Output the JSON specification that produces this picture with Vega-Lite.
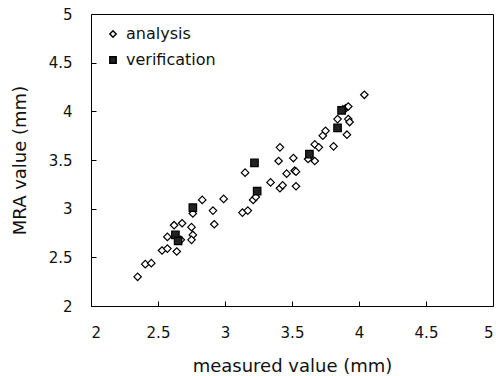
{
  "$schema": "https://vega.github.io/schema/vega-lite/v6.json",
  "autosize": "none",
  "width": 402,
  "height": 292,
  "padding": {"left": 91, "top": 14, "right": 3, "bottom": 70},
  "background": "white",
  "config": {
    "view": {"stroke": "black", "strokeWidth": 1},
    "font": "DejaVu Sans",
    "axis": {"grid": false, "domain": false, "tickColor": "black", "tickSize": -5, "labelFont": "DejaVu Sans", "labelFontSize": 15, "labelColor": "#111", "titleFont": "DejaVu Sans", "titleFontSize": 18, "titleFontWeight": "normal", "titleColor": "#111"},
    "legend": {"labelFont": "DejaVu Sans", "labelFontSize": 16, "labelColor": "#111"}
  },
  "data": {"values": [
    {"x": 2.348, "y": 2.30, "s": "analysis"},
    {"x": 2.405, "y": 2.43, "s": "analysis"},
    {"x": 2.45, "y": 2.44, "s": "analysis"},
    {"x": 2.53, "y": 2.57, "s": "analysis"},
    {"x": 2.57, "y": 2.59, "s": "analysis"},
    {"x": 2.64, "y": 2.56, "s": "analysis"},
    {"x": 2.57, "y": 2.71, "s": "analysis"},
    {"x": 2.62, "y": 2.83, "s": "analysis"},
    {"x": 2.68, "y": 2.85, "s": "analysis"},
    {"x": 2.67, "y": 2.68, "s": "analysis"},
    {"x": 2.75, "y": 2.81, "s": "analysis"},
    {"x": 2.76, "y": 2.73, "s": "analysis"},
    {"x": 2.75, "y": 2.68, "s": "analysis"},
    {"x": 2.76, "y": 2.95, "s": "analysis"},
    {"x": 2.83, "y": 3.09, "s": "analysis"},
    {"x": 2.91, "y": 2.98, "s": "analysis"},
    {"x": 2.92, "y": 2.84, "s": "analysis"},
    {"x": 2.99, "y": 3.10, "s": "analysis"},
    {"x": 3.13, "y": 2.96, "s": "analysis"},
    {"x": 3.17, "y": 2.98, "s": "analysis"},
    {"x": 3.15, "y": 3.37, "s": "analysis"},
    {"x": 3.21, "y": 3.09, "s": "analysis"},
    {"x": 3.23, "y": 3.12, "s": "analysis"},
    {"x": 3.34, "y": 3.27, "s": "analysis"},
    {"x": 3.41, "y": 3.21, "s": "analysis"},
    {"x": 3.43, "y": 3.24, "s": "analysis"},
    {"x": 3.40, "y": 3.49, "s": "analysis"},
    {"x": 3.41, "y": 3.63, "s": "analysis"},
    {"x": 3.46, "y": 3.36, "s": "analysis"},
    {"x": 3.51, "y": 3.52, "s": "analysis"},
    {"x": 3.52, "y": 3.39, "s": "analysis"},
    {"x": 3.53, "y": 3.38, "s": "analysis"},
    {"x": 3.53, "y": 3.23, "s": "analysis"},
    {"x": 3.62, "y": 3.51, "s": "analysis"},
    {"x": 3.67, "y": 3.49, "s": "analysis"},
    {"x": 3.67, "y": 3.66, "s": "analysis"},
    {"x": 3.70, "y": 3.63, "s": "analysis"},
    {"x": 3.73, "y": 3.75, "s": "analysis"},
    {"x": 3.75, "y": 3.80, "s": "analysis"},
    {"x": 3.81, "y": 3.64, "s": "analysis"},
    {"x": 3.84, "y": 3.92, "s": "analysis"},
    {"x": 3.92, "y": 3.92, "s": "analysis"},
    {"x": 3.93, "y": 3.89, "s": "analysis"},
    {"x": 3.91, "y": 3.76, "s": "analysis"},
    {"x": 3.90, "y": 4.03, "s": "analysis"},
    {"x": 3.92, "y": 4.05, "s": "analysis"},
    {"x": 4.04, "y": 4.17, "s": "analysis"},
    {"x": 3.88, "y": 4.02, "s": "analysis"},
    {"x": 2.63, "y": 2.73, "s": "verification"},
    {"x": 2.65, "y": 2.67, "s": "verification"},
    {"x": 2.76, "y": 3.01, "s": "verification"},
    {"x": 3.22, "y": 3.47, "s": "verification"},
    {"x": 3.24, "y": 3.18, "s": "verification"},
    {"x": 3.63, "y": 3.56, "s": "verification"},
    {"x": 3.84, "y": 3.83, "s": "verification"},
    {"x": 3.87, "y": 4.01, "s": "verification"}
  ]},
  "mark": {"type": "point", "stroke": "black", "strokeWidth": 1.2, "opacity": 1, "size": 56},
  "encoding": {
    "x": {"field": "x", "type": "quantitative", "scale": {"domain": [2, 5], "nice": false, "zero": false}, "axis": {"values": [2, 2.5, 3, 3.5, 4, 4.5, 5], "title": "measured  value (mm)", "labelPadding": 24, "titlePadding": 17, "labelExpr": "datum.value"}},
    "y": {"field": "y", "type": "quantitative", "scale": {"domain": [2, 5], "nice": false, "zero": false}, "axis": {"values": [2, 2.5, 3, 3.5, 4, 4.5, 5], "title": "MRA value (mm)", "labelPadding": 24, "titlePadding": 19, "labelExpr": "datum.value"}},
    "shape": {"field": "s", "type": "nominal", "scale": {"domain": ["analysis", "verification"], "range": ["diamond", "square"]}, "legend": {"title": null, "orient": "none", "legendX": 14, "legendY": 12, "symbolSize": 40, "rowPadding": 10, "labelOffset": 5, "encode": {"symbols": {"update": {"stroke": {"value": "black"}, "strokeWidth": {"value": 1.2}}}}}},
    "fill": {"field": "s", "type": "nominal", "scale": {"domain": ["analysis", "verification"], "range": ["white", "#222"]}, "legend": {"title": null, "orient": "none", "legendX": 14, "legendY": 12, "symbolSize": 40, "rowPadding": 10, "labelOffset": 5, "encode": {"symbols": {"update": {"stroke": {"value": "black"}, "strokeWidth": {"value": 1.2}}}}}}
  }
}
